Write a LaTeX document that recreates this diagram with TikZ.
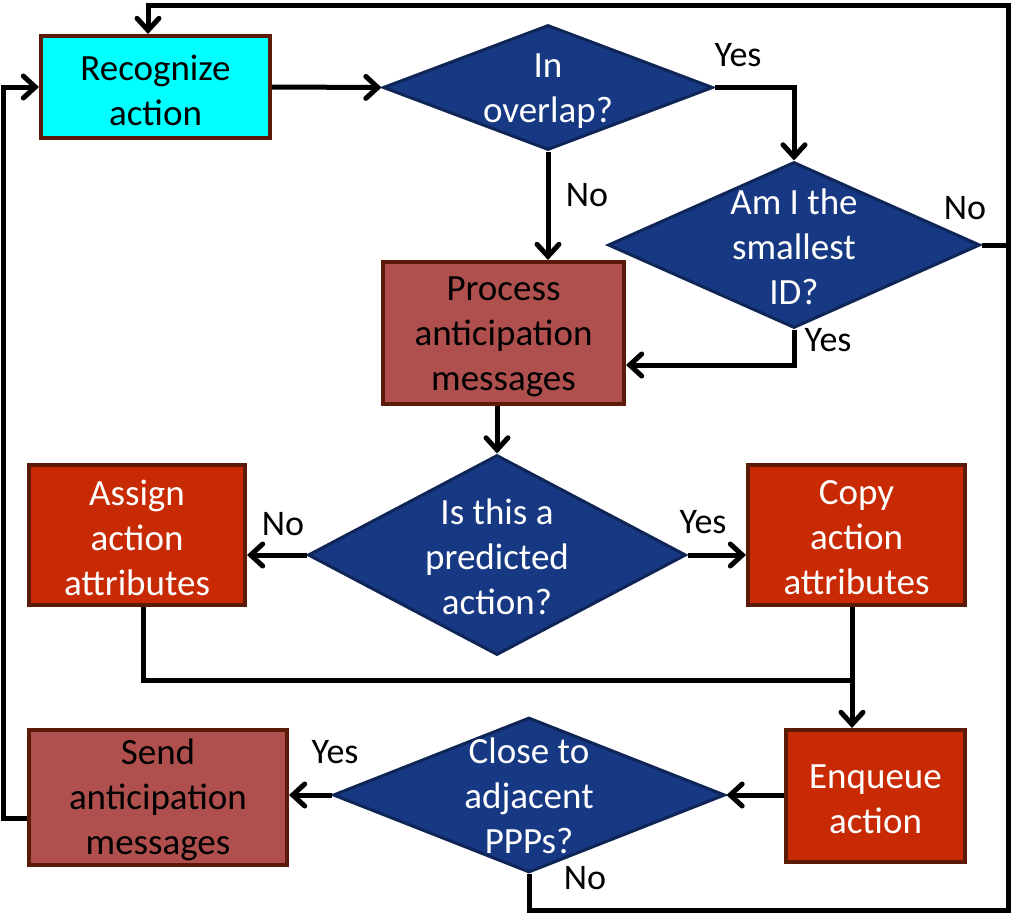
\documentclass[tikz,border=0pt]{standalone}
\usepackage{fontspec}
\setmainfont{Carlito}
\usetikzlibrary{shapes.geometric,arrows.meta}
\definecolor{cyanfill}{RGB}{0,255,255}
\definecolor{rosefill}{RGB}{176,80,78}
\definecolor{redfill}{RGB}{200,42,4}
\definecolor{boxborder}{RGB}{92,26,8}
\definecolor{navyfill}{RGB}{23,56,130}
\definecolor{navyborder}{RGB}{15,37,87}
\tikzset{
  boxbase/.style={rectangle, draw=boxborder, line width=4pt, inner sep=0pt},
  cyanbox/.style={boxbase, fill=cyanfill},
  rosebox/.style={boxbase, fill=rosefill},
  redbox/.style={boxbase, fill=redfill},
  darktext/.style={align=center, text=black, font=\fontsize{37}{45}\selectfont, inner sep=0pt},
  lighttext/.style={align=center, text=white, font=\fontsize{37}{45}\selectfont, inner sep=0pt},
  dia/.style={diamond, draw=navyborder, fill=navyfill, line width=3pt, inner sep=0pt},
  lbl/.style={font=\fontsize{36}{40}\selectfont, text=black, inner sep=0pt},
  conn/.style={draw=black, line width=5pt},
  arr/.style={conn, -{Straight Barb[length=12pt,width=22pt,line cap=round]}},
}
\begin{document}
\begin{tikzpicture}[x=1pt,y=-1pt]
\useasboundingbox (0,0) rectangle (1024,918);
% boxes
\node[cyanbox, minimum width=229pt, minimum height=102pt] (rec) at (155.5,87) {};
\node[darktext] (rect) at ([yshift=-3pt]rec.center) {Recognize\\action};
\node[rosebox, minimum width=241pt, minimum height=142pt] (proc) at (503.5,333) {};
\node[darktext] (proct) at ([yshift=-4pt]proc.center) {Process\\anticipation\\messages};
\node[redbox, minimum width=216pt, minimum height=140pt] (assign) at (137,535) {};
\node[lighttext] (assignt) at ([yshift=-3pt]assign.center) {Assign\\action\\attributes};
\node[redbox, minimum width=217pt, minimum height=140pt] (copy) at (856.5,535) {};
\node[lighttext] (copyt) at ([yshift=-3pt]copy.center) {Copy\\action\\attributes};
\node[redbox, minimum width=179pt, minimum height=132pt] (enq) at (875.5,796) {};
\node[lighttext] (enqt) at ([yshift=-3pt]enq.center) {Enqueue\\action};
\node[rosebox, minimum width=258pt, minimum height=135pt] (send) at (158,797.5) {};
\node[darktext] (sendt) at ([yshift=-2pt]send.center) {Send\\anticipation\\messages};
% diamonds
\node[dia, minimum width=330pt, minimum height=125pt] (d1) at (548,87.5) {};
\node[lighttext] (d1t) at ([yshift=-4pt]d1.center) {In\\overlap?};
\node[dia, minimum width=372pt, minimum height=166pt] (d2) at (794,245) {};
\node[lighttext] (d2t) at ([yshift=-2pt]d2.center) {Am I the\\smallest\\ID?};
\node[dia, minimum width=378pt, minimum height=200pt] (d3) at (497,555) {};
\node[lighttext] (d3t) at ([yshift=-2pt]d3.center) {Is this a\\predicted\\action?};
\node[dia, minimum width=392pt, minimum height=155pt] (d4) at (529,795) {};
\node[lighttext] (d4t) at ([yshift=-1pt]d4.center) {Close to\\adjacent\\PPPs?};
% corner coordinates
\coordinate (br) at (1008,910);
\coordinate (tr) at (1008,5);
\coordinate (lj) at (852,680);
% connectors
\draw[arr] (rec.east) -- (d1.west);
\draw[arr] (d1.east) -| (d2.north);
\draw[arr] (d1.south) -- (d1.south |- proc.north);
\draw[arr] (d2.south) |- ([yshift=-32pt]proc.east);
\draw[conn] (d2.east) -- (d2.east -| br);
\draw[arr] (d3.north |- proc.south) -- (d3.north);
\draw[arr] (d3.west) -- (d3.west -| assign.east);
\draw[arr] (d3.east) -- (d3.east -| copy.west);
\draw[conn] (assign.south -| 143,0) |- (lj);
\draw[arr] (copy.south -| lj) -- (lj |- enq.north);
\draw[arr] (enq.west |- d4.east) -- (d4.east);
\draw[arr] (d4.west) -- (d4.west -| send.east);
\draw[arr] (d4.south) |- (br) -- (tr) -| ([xshift=-7.5pt]rec.north);
\draw[arr] ([yshift=-21pt]send.west) -- ++(-24pt,0) |- (rec.west);
% labels
\node[lbl] (l1) at (738,55) {Yes};
\node[lbl] (l2) at (587,195) {No};
\node[lbl] (l3) at (965,208) {No};
\node[lbl] (l4) at (828,340) {Yes};
\node[lbl] (l5) at (283,524) {No};
\node[lbl] (l6) at (703,522) {Yes};
\node[lbl] (l7) at (335,752) {Yes};
\node[lbl] (l8) at (585,878) {No};
\end{tikzpicture}
\end{document}
